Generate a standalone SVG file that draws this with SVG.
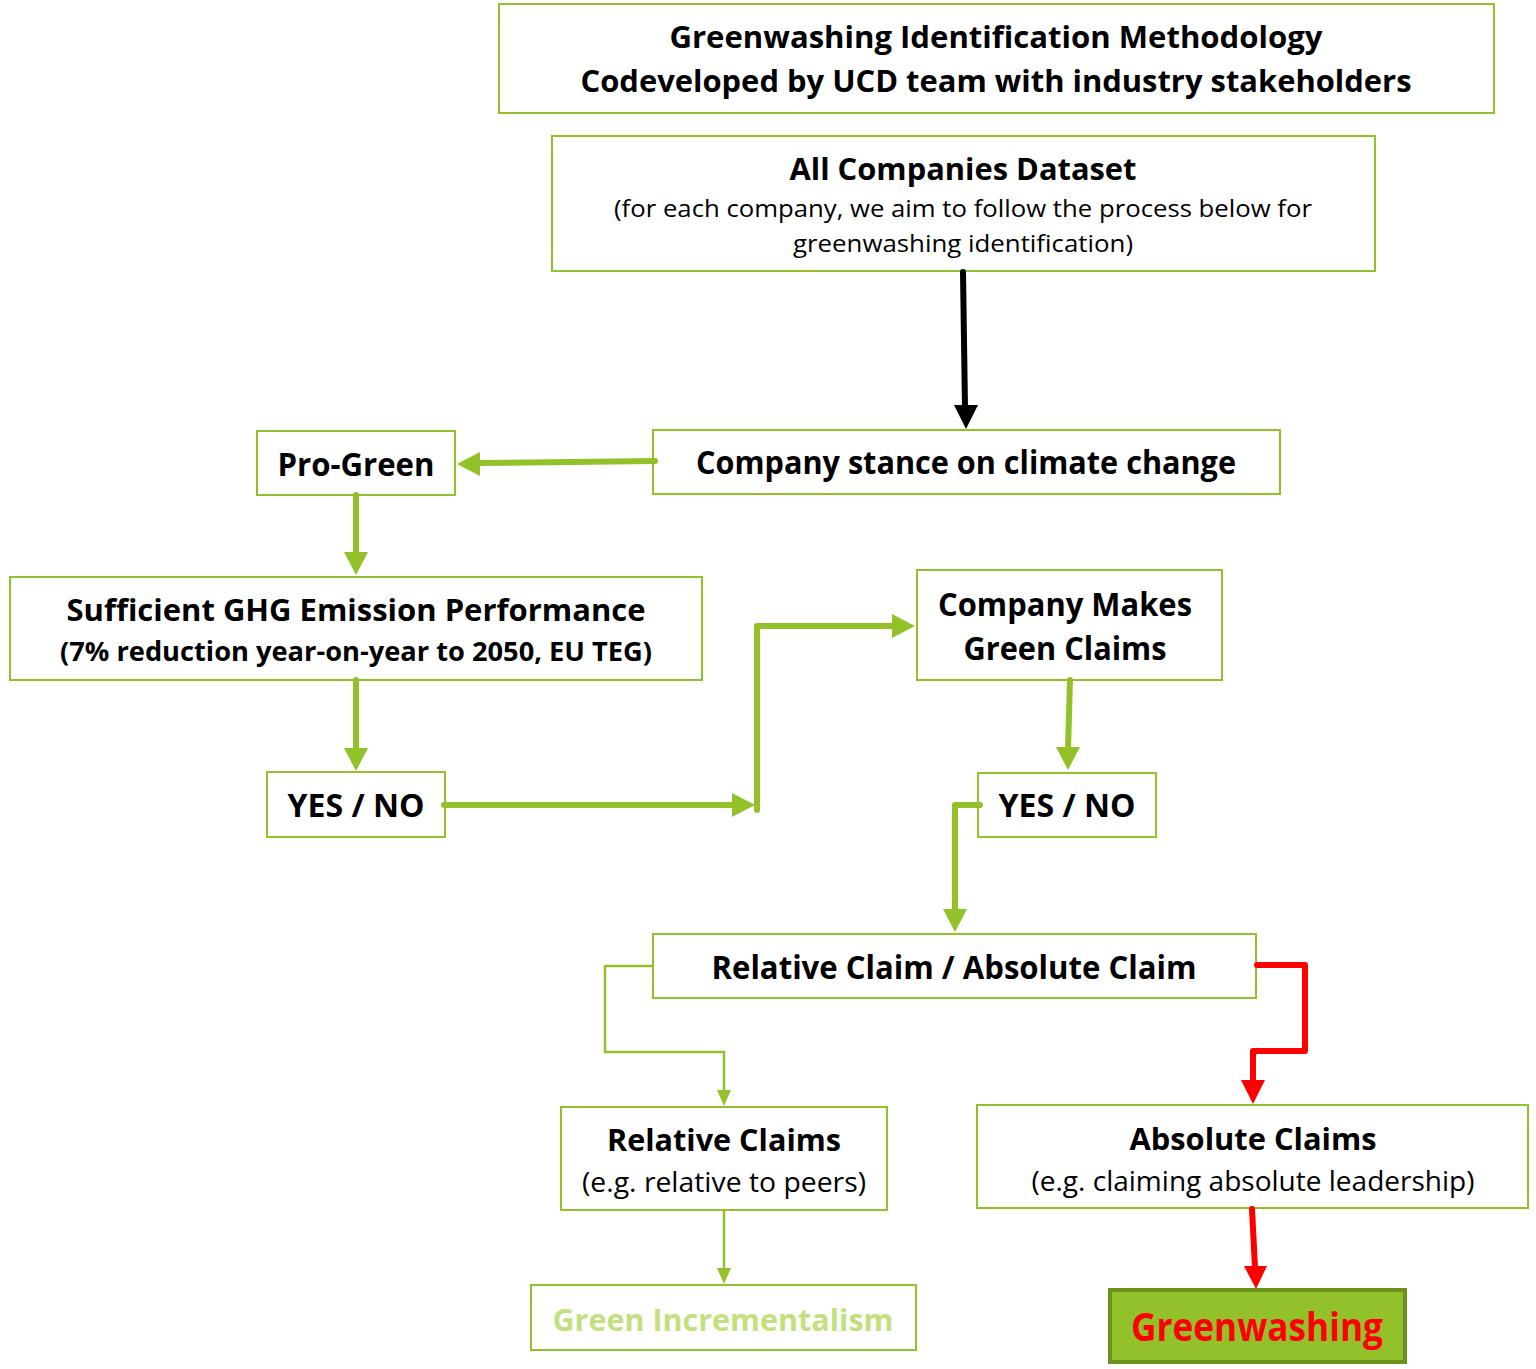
<svg xmlns="http://www.w3.org/2000/svg" width="1536" height="1369" viewBox="0 0 1536 1369">
<style>
.box{fill:#fff;stroke:#92c12a;stroke-width:2}
.t{font-family:"Open Sans","Liberation Sans",sans-serif;fill:#000;text-anchor:middle}
.b{font-weight:bold}
.thick{fill:none;stroke:#92c12a;stroke-width:6;stroke-linecap:round;stroke-linejoin:round}
.thin{fill:none;stroke:#92c12a;stroke-width:2.5}
.red{fill:none;stroke:#ff0000;stroke-width:6;stroke-linecap:round;stroke-linejoin:round}
.gh{fill:#92c12a}
.rh{fill:#ff0000}
</style>
<rect width="1536" height="1369" fill="#fff"/>
<g id="title">
<rect class="box" x="499" y="4" width="995" height="109"/>
<text class="t b" x="996" y="48" font-size="31" textLength="653" lengthAdjust="spacingAndGlyphs">Greenwashing Identification Methodology</text>
<text class="t b" x="996" y="92" font-size="31" textLength="831" lengthAdjust="spacingAndGlyphs">Codeveloped by UCD team with industry stakeholders</text>
</g>
<g id="dataset">
<rect class="box" x="552" y="136" width="823" height="135"/>
<text class="t b" x="963" y="180" font-size="31" textLength="347" lengthAdjust="spacingAndGlyphs">All Companies Dataset</text>
<text class="t" x="963" y="217" font-size="24" textLength="698" lengthAdjust="spacingAndGlyphs">(for each company, we aim to follow the process below for</text>
<text class="t" x="963" y="252" font-size="24" textLength="340" lengthAdjust="spacingAndGlyphs">greenwashing identification)</text>
</g>
<g id="stance">
<rect class="box" x="653" y="430" width="627" height="64"/>
<text class="t b" x="966" y="474" font-size="32" textLength="540" lengthAdjust="spacingAndGlyphs">Company stance on climate change</text>
</g>
<g id="progreen">
<rect class="box" x="257" y="431" width="198" height="64"/>
<text class="t b" x="356" y="476" font-size="32" textLength="157" lengthAdjust="spacingAndGlyphs">Pro-Green</text>
</g>
<g id="ghg">
<rect class="box" x="10" y="577" width="692" height="103"/>
<text class="t b" x="356" y="621" font-size="31" textLength="579" lengthAdjust="spacingAndGlyphs">Sufficient GHG Emission Performance</text>
<text class="t b" x="356" y="661" font-size="26" textLength="592" lengthAdjust="spacingAndGlyphs">(7% reduction year-on-year to 2050, EU TEG)</text>
</g>
<g id="yesno1">
<rect class="box" x="267" y="772" width="178" height="65"/>
<text class="t b" x="356" y="817" font-size="32" textLength="137" lengthAdjust="spacingAndGlyphs">YES / NO</text>
</g>
<g id="greenclaims">
<rect class="box" x="917" y="570" width="305" height="110"/>
<text class="t b" x="1065" y="616" font-size="32" textLength="254" lengthAdjust="spacingAndGlyphs">Company Makes</text>
<text class="t b" x="1065" y="660" font-size="32" textLength="203" lengthAdjust="spacingAndGlyphs">Green Claims</text>
</g>
<g id="yesno2">
<rect class="box" x="978" y="773" width="178" height="64"/>
<text class="t b" x="1067" y="817" font-size="32" textLength="137" lengthAdjust="spacingAndGlyphs">YES / NO</text>
</g>
<g id="relabs">
<rect class="box" x="653" y="934" width="603" height="64"/>
<text class="t b" x="954" y="979" font-size="32" textLength="485" lengthAdjust="spacingAndGlyphs">Relative Claim / Absolute Claim</text>
</g>
<g id="relative">
<rect class="box" x="561" y="1107" width="326" height="103"/>
<text class="t b" x="724" y="1151" font-size="31" textLength="234" lengthAdjust="spacingAndGlyphs">Relative Claims</text>
<text class="t" x="724" y="1192" font-size="27" textLength="284" lengthAdjust="spacingAndGlyphs">(e.g. relative to peers)</text>
</g>
<g id="absolute">
<rect class="box" x="977" y="1105" width="551" height="103"/>
<text class="t b" x="1253" y="1150" font-size="31" textLength="247" lengthAdjust="spacingAndGlyphs">Absolute Claims</text>
<text class="t" x="1253" y="1191" font-size="27" textLength="443" lengthAdjust="spacingAndGlyphs">(e.g. claiming absolute leadership)</text>
</g>
<g id="incremental">
<rect class="box" x="531" y="1285" width="385" height="65"/>
<text class="t b" x="723" y="1331" font-size="31" fill="#c3e07f" style="fill:#c3e07f" textLength="341" lengthAdjust="spacingAndGlyphs">Green Incrementalism</text>
</g>
<g id="greenwashing">
<rect x="1110" y="1290" width="295" height="72" fill="#92c12a" stroke="#6a921c" stroke-width="4"/>
<text class="t b" x="1257" y="1341" font-size="40" style="fill:#ff0000" textLength="252" lengthAdjust="spacingAndGlyphs">Greenwashing</text>
</g>
<g id="connectors">
<line x1="963" y1="272" x2="965" y2="408" stroke="#000" stroke-width="6" stroke-linecap="round"/>
<polygon points="954,405 978,405 966,429" fill="#000"/>
<line class="thick" x1="655" y1="461" x2="478" y2="463"/>
<polygon class="gh" points="457,464 480,452 480,476"/>
<line class="thick" x1="356" y1="495" x2="356" y2="555"/>
<polygon class="gh" points="344,552 368,552 356,575"/>
<line class="thick" x1="356" y1="680" x2="356" y2="750"/>
<polygon class="gh" points="344,748 368,748 356,771"/>
<line class="thick" x1="444" y1="805" x2="735" y2="805"/>
<polygon class="gh" points="755,805 732,793 732,817"/>
<polyline class="thick" points="757,810 757,626 895,626"/>
<polygon class="gh" points="915,626 892,614 892,638"/>
<line class="thick" x1="1070" y1="680" x2="1068" y2="750"/>
<polygon class="gh" points="1056,747 1080,747 1068,770"/>
<polyline class="thick" points="980,805 955,805 955,912"/>
<polygon class="gh" points="943,909 967,909 955,932"/>
<polyline class="thin" points="653,966 605,966 605,1052 724,1052 724,1092"/>
<polygon class="gh" points="717,1090 731,1090 724,1106"/>
<polyline class="red" points="1257,965 1305,965 1305,1051 1253,1051 1253,1082"/>
<polygon class="rh" points="1241,1080 1265,1080 1253,1104"/>
<line class="thin" x1="724" y1="1210" x2="724" y2="1270"/>
<polygon class="gh" points="717,1268 731,1268 724,1284"/>
<line class="red" x1="1252" y1="1209" x2="1255" y2="1268"/>
<polygon class="rh" points="1244,1266 1267,1266 1256,1289"/>
</g>
</svg>
